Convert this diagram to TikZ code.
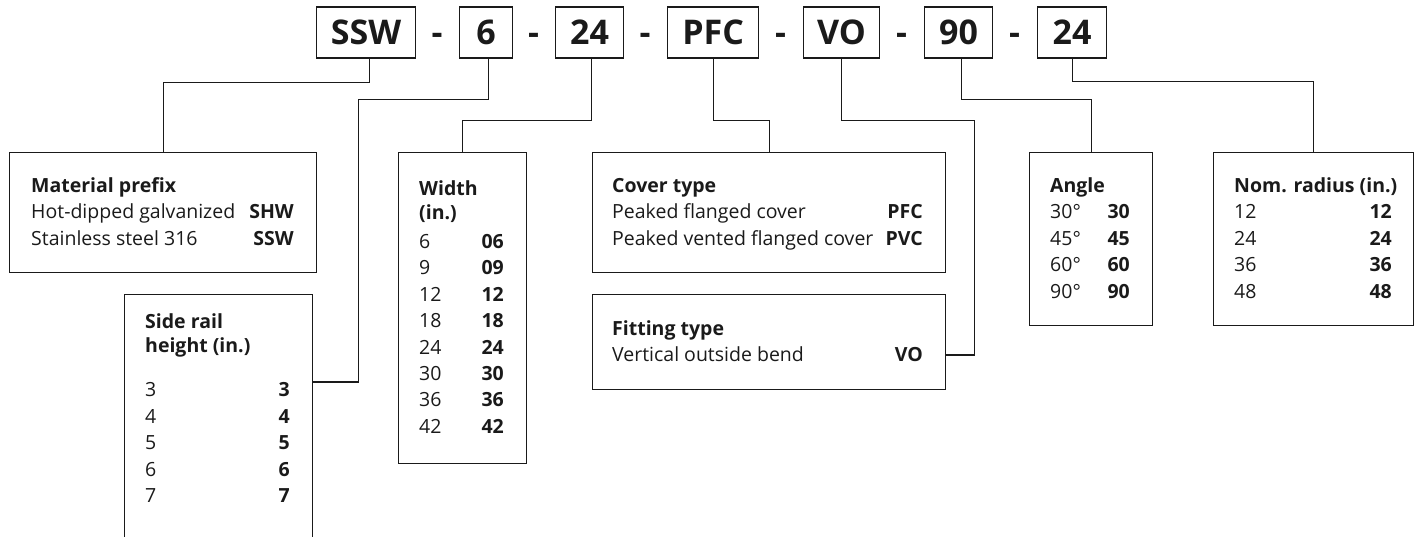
\documentclass[tikz,border=0pt]{standalone}
\usepackage{fontspec}
\setmainfont{Open Sans}
\usetikzlibrary{positioning}
\definecolor{Ink}{HTML}{1A1A1A}
\tikzset{
  codebox/.style={draw=Ink, line width=1.2pt, anchor=west, minimum height=51pt,
    inner sep=0pt, text=Ink, font=\fontsize{34}{36}\selectfont\bfseries,
    text height=24pt, text depth=0pt},
  codedash/.style={inner sep=0pt, text=Ink, font=\fontsize{34}{36}\selectfont\bfseries,
    text height=24pt, text depth=0pt},
  infobox/.style={draw=Ink, line width=1.2pt, anchor=north west, inner sep=0pt},
  lab/.style={anchor=base west, inner sep=0pt, text=Ink, font=\fontsize{19.5}{23}\selectfont},
  head/.style={lab, font=\fontsize{19.5}{23}\selectfont\bfseries},
  val/.style={anchor=base east, inner sep=0pt, text=Ink, font=\fontsize{19.5}{23}\selectfont\bfseries},
  wire/.style={draw=Ink, line width=1.2pt}
}

\begin{document}
\begin{tikzpicture}[x=1pt,y=-1pt]
  \useasboundingbox (0,0) rectangle (1424,536);
  \clip (0,0) rectangle (1424,536);
  % part number along the top
  \foreach \n/\x/\w/\t in {1/316/99/SSW,2/459/53/6,3/555/68/24,4/667/91/PFC,
                           5/803/76/VO,6/924/68/90,7/1037/69/24}
    \node[codebox, minimum width=\w pt] (c\n) at (\x,32.5) {\t};
  \foreach \n/\x in {1/437,2/533.5,3/645,4/780.5,5/901.5,6/1014.5}
    \node[codedash] (d\n) at (\x,32.5) {-};

  % option boxes
  \node[infobox, minimum width=307pt, minimum height=120pt] (mat) at (9,152) {};
  \node[infobox, minimum width=188pt, minimum height=250pt] (rail) at (124,294) {};
  \node[infobox, minimum width=128pt, minimum height=311pt] (wid) at (398,152) {};
  \node[infobox, minimum width=353pt, minimum height=120pt] (cov) at (592,152) {};
  \node[infobox, minimum width=353pt, minimum height=95pt] (fit) at (592,294) {};
  \node[infobox, minimum width=123pt, minimum height=173pt] (ang) at (1029,152) {};
  \node[infobox, minimum width=200pt, minimum height=173pt] (nom) at (1213,152) {};

  % material prefix
  \node[head] (matH) at (31,192.5) {Material prefix};
  \foreach \i/\a/\b in {1/Hot-dipped galvanized/SHW,2/Stainless steel 316/SSW} {
    \node[lab] (matL\i) at (31,{192.5+26.4*\i}) {\a};
    \node[val] (matV\i) at (294,{192.5+26.4*\i}) {\b};
  }

  % side rail height
  \node[head] (railH1) at (145,328.5) {Side rail};
  \node[head] (railH2) at (145,352.5) {height (in.)};
  \foreach \i/\a in {0/3,1/4,2/5,3/6,4/7} {
    \node[lab] (railL\i) at (145,{396.5+26.5*\i}) {\a};
    \node[val] (railV\i) at (290,{396.5+26.5*\i}) {\a};
  }

  % width
  \node[head] (widH1) at (419,195.5) {Width};
  \node[head] (widH2) at (419,219.5) {(in.)};
  \foreach \i/\a/\b in {0/6/06,1/9/09,2/12/12,3/18/18,4/24/24,5/30/30,6/36/36,7/42/42} {
    \node[lab] (widL\i) at (419,{248.5+26.4*\i}) {\a};
    \node[val] (widV\i) at (504,{248.5+26.4*\i}) {\b};
  }

  % cover type
  \node[head] (covH) at (612,192.5) {Cover type};
  \foreach \i/\a/\b in {1/Peaked flanged cover/PFC,2/Peaked vented flanged cover/PVC} {
    \node[lab] (covL\i) at (612,{192.5+26.4*\i}) {\a};
    \node[val] (covV\i) at (923,{192.5+26.4*\i}) {\b};
  }

  % fitting type
  \node[head] (fitH) at (612,335.5) {Fitting type};
  \node[lab] (fitL) at (612,361.5) {Vertical outside bend};
  \node[val] (fitV) at (923,361.5) {VO};

  % angle
  \node[head] (angH) at (1050,192.5) {Angle};
  \foreach \i/\a in {1/30,2/45,3/60,4/90} {
    \node[lab] (angL\i) at (1050,{192.5+26.4*\i}) {\a°};
    \node[val] (angV\i) at (1130,{192.5+26.4*\i}) {\a};
  }

  % nominal radius
  \node[head] (nomH) at (1234,192.5) {Nom. radius (in.)};
  \foreach \i/\a in {1/12,2/24,3/36,4/48} {
    \node[lab] (nomL\i) at (1234,{192.5+26.4*\i}) {\a};
    \node[val] (nomV\i) at (1392,{192.5+26.4*\i}) {\a};
  }

  % leaders
  \draw[wire] ([xshift=3pt]c1.south) -- ++(0,24) -| (mat.north);
  \draw[wire] ([xshift=2pt]c2.south) -- ++(0,41) -- ++(-130,0) |- ([yshift=-88pt]rail.north east);
  \draw[wire] ([xshift=2pt]c3.south) -- ++(0,62) -| (wid.north);
  \draw[wire] (c4.south) -- ++(0,62) -| (cov.north);
  \draw[wire] (c5.south) -- ++(0,62) -- ++(133,0) |- ([yshift=-61pt]fit.north east);
  \draw[wire] ([xshift=3pt]c6.south) -- ++(0,41) -| (ang.north);
  \draw[wire] (c7.south) -- ++(0,23) -| (nom.north);
\end{tikzpicture}
\end{document}
